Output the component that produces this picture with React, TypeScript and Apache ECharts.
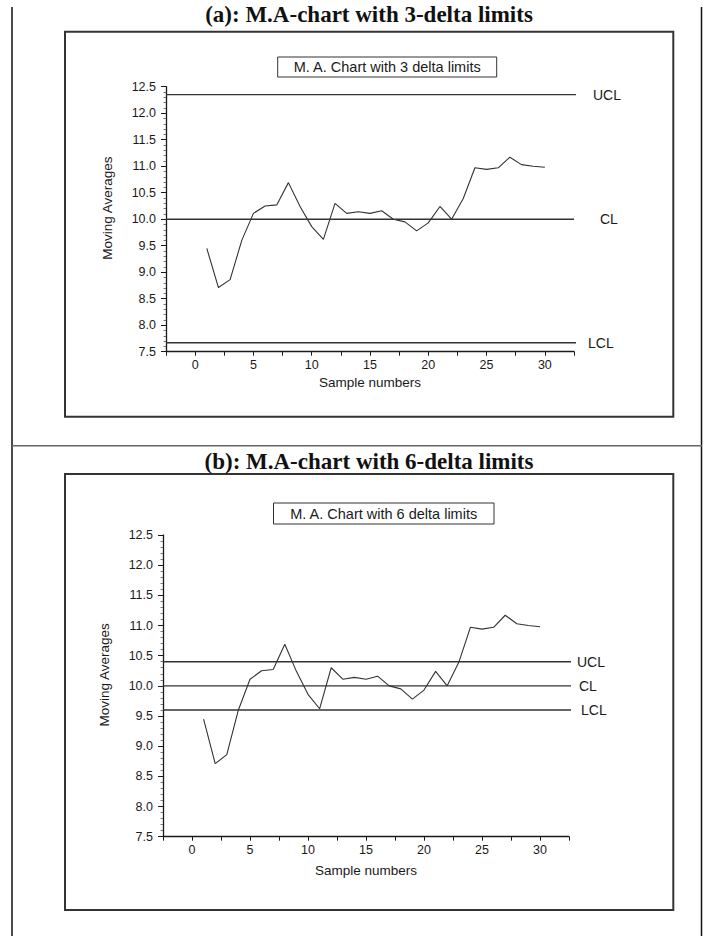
import React, { useEffect, useRef } from "react";
import * as echarts from "echarts";

// ---- data ----
const samples = [1, 2, 3, 4, 5, 6, 7, 8, 9, 10, 11, 12, 13, 14, 15, 16, 17, 18, 19, 20, 21, 22, 23, 24, 25, 26, 27, 28, 29, 30];
const movingAverages = [9.45, 8.71, 8.86, 9.6, 10.11, 10.25, 10.27, 10.69, 10.24, 9.86, 9.62, 10.3, 10.11, 10.14, 10.11, 10.16, 10.0, 9.95, 9.78, 9.93, 10.24, 10.0, 10.39, 10.97, 10.94, 10.97, 11.17, 11.03, 11.0, 10.98];
const limitNames = ["UCL", "CL", "LCL"];
const limits3 = [12.35, 10.0, 7.67];
const limits6 = [10.4, 10.0, 9.6];
const yTicks = { min: 7.5, max: 12.5, step: 0.5 };
const xTicks = { min: -2.5, max: 32.5, step: 2.5 };
const titles = ["(a): M.A-chart with 3-delta limits", "(b): M.A-chart with 6-delta limits"];
const legendTexts = ["M. A. Chart with 3 delta limits", "M. A. Chart with 6 delta limits"];
const xName = "Sample numbers";
const yName = "Moving Averages";

const SANS = '"Liberation Sans", Arial, Helvetica, sans-serif';
const SERIF = '"Liberation Serif", "Times New Roman", serif';
const INK = "#1a1a1a";

export default function App() {
  const ref = useRef<HTMLDivElement>(null);

  useEffect(() => {
    if (!ref.current) return;
    const chart = echarts.init(ref.current, null, { renderer: "svg" });

    const mkX = (gi: number, gap: number) => ({
      type: "value",
      gridIndex: gi,
      min: xTicks.min,
      max: xTicks.max,
      interval: xTicks.step,
      axisLine: { onZero: false, lineStyle: { color: INK, width: 1.3 } },
      axisTick: { show: true, inside: false, length: 4, lineStyle: { color: INK, width: 1 } },
      axisLabel: {
        formatter: (v: number) => (Math.abs(v % 5) < 1e-9 ? String(v) : ""),
        margin: 7,
        fontSize: 12.5,
        color: INK,
        fontFamily: SANS,
        showMinLabel: true,
        showMaxLabel: true,
      },
      splitLine: { show: false },
      name: xName,
      nameLocation: "middle",
      nameGap: gap,
      nameTextStyle: { fontSize: 13.5, color: INK, fontFamily: SANS },
    });

    const mkY = (gi: number) => ({
      type: "value",
      gridIndex: gi,
      min: yTicks.min,
      max: yTicks.max,
      interval: yTicks.step,
      axisLine: { show: true, onZero: false, lineStyle: { color: INK, width: 1.3 } },
      axisTick: { show: true, inside: false, length: 5, lineStyle: { color: INK, width: 1 } },
      minorTick: { show: true, splitNumber: 5, length: 2.5, lineStyle: { color: "#555", width: 0.8 } },
      axisLabel: {
        formatter: (v: number) => v.toFixed(1),
        margin: 10,
        fontSize: 12.5,
        color: INK,
        fontFamily: SANS,
      },
      splitLine: { show: false },
      name: yName,
      nameLocation: "middle",
      nameGap: 52,
      nameTextStyle: { fontSize: 13.5, color: INK, fontFamily: SANS, padding: [0, 0, 0, 22] },
    });

    const limitSeries = (gi: number, vals: number[], ends: number[], dists: number[]) =>
      vals.map((v, i) => ({
        type: "line",
        xAxisIndex: gi,
        yAxisIndex: gi,
        data: [
          [xTicks.min, v],
          [ends[i], v],
        ],
        clip: false,
        showSymbol: false,
        symbol: "none",
        silent: true,
        lineStyle: { color: "#333", width: 1.4 },
        endLabel: {
          show: true,
          formatter: limitNames[i],
          distance: dists[i],
          fontSize: 14,
          color: INK,
          fontFamily: SANS,
        },
      }));

    const maSeries = (gi: number) => ({
      type: "line",
      xAxisIndex: gi,
      yAxisIndex: gi,
      data: samples.map((s, i) => [s, movingAverages[i]]),
      showSymbol: false,
      symbol: "none",
      lineStyle: { color: "#333", width: 1.1 },
    });

    const pageGraphics: any[] = [
      { type: "line", shape: { x1: 12, y1: 7, x2: 12, y2: 936 }, style: { stroke: "#111", lineWidth: 1.5 } },
      { type: "line", shape: { x1: 701.5, y1: 7, x2: 701.5, y2: 936 }, style: { stroke: "#111", lineWidth: 1.5 } },
      { type: "line", shape: { x1: 12, y1: 445.7, x2: 702, y2: 445.7 }, style: { stroke: "#666", lineWidth: 1.5 } },
      { type: "rect", shape: { x: 65, y: 31.7, width: 608.3, height: 385 }, style: { fill: "none", stroke: "#333", lineWidth: 2 } },
      { type: "rect", shape: { x: 65, y: 474, width: 608.3, height: 436 }, style: { fill: "none", stroke: "#333", lineWidth: 2 } },
      {
        type: "text",
        x: 369,
        y: 14,
        style: { text: titles[0], textAlign: "center", textVerticalAlign: "middle", font: `bold 23px ${SERIF}`, fill: "#111" },
      },
      {
        type: "text",
        x: 369,
        y: 461,
        style: { text: titles[1], textAlign: "center", textVerticalAlign: "middle", font: `bold 23px ${SERIF}`, fill: "#111" },
      },
      { type: "rect", shape: { x: 277.7, y: 57, width: 219, height: 20 }, style: { fill: "#fff", stroke: "#333", lineWidth: 1 } },
      {
        type: "text",
        x: 387.2,
        y: 67,
        style: { text: legendTexts[0], textAlign: "center", textVerticalAlign: "middle", font: `14.5px ${SANS}`, fill: INK },
      },
      { type: "rect", shape: { x: 273.5, y: 503, width: 220.5, height: 21 }, style: { fill: "#fff", stroke: "#333", lineWidth: 1 } },
      {
        type: "text",
        x: 383.7,
        y: 513.5,
        style: { text: legendTexts[1], textAlign: "center", textVerticalAlign: "middle", font: `14.5px ${SANS}`, fill: INK },
      },
    ];

    chart.setOption({
      animation: false,
      backgroundColor: "#fff",
      grid: [
        { left: 166, top: 86.7, width: 408, height: 265 },
        { left: 163, top: 535, width: 406, height: 301.7 },
      ],
      xAxis: [mkX(0, 24), mkX(1, 27)],
      yAxis: [mkY(0), mkY(1)],
      series: [
        maSeries(0),
        ...limitSeries(0, limits3, [34.4, 32.5, 32.7], [17, 26, 12]),
        maSeries(1),
        ...limitSeries(1, limits6, [35.75, 35.1, 34.5], [6, 8, 10]),
      ],
      graphic: pageGraphics,
    });

    return () => chart.dispose();
  }, []);

  return (
    <div
      ref={ref}
      style={{ position: "fixed", left: 0, top: 0, width: 705, height: 936, background: "#fff" }}
    />
  );
}
